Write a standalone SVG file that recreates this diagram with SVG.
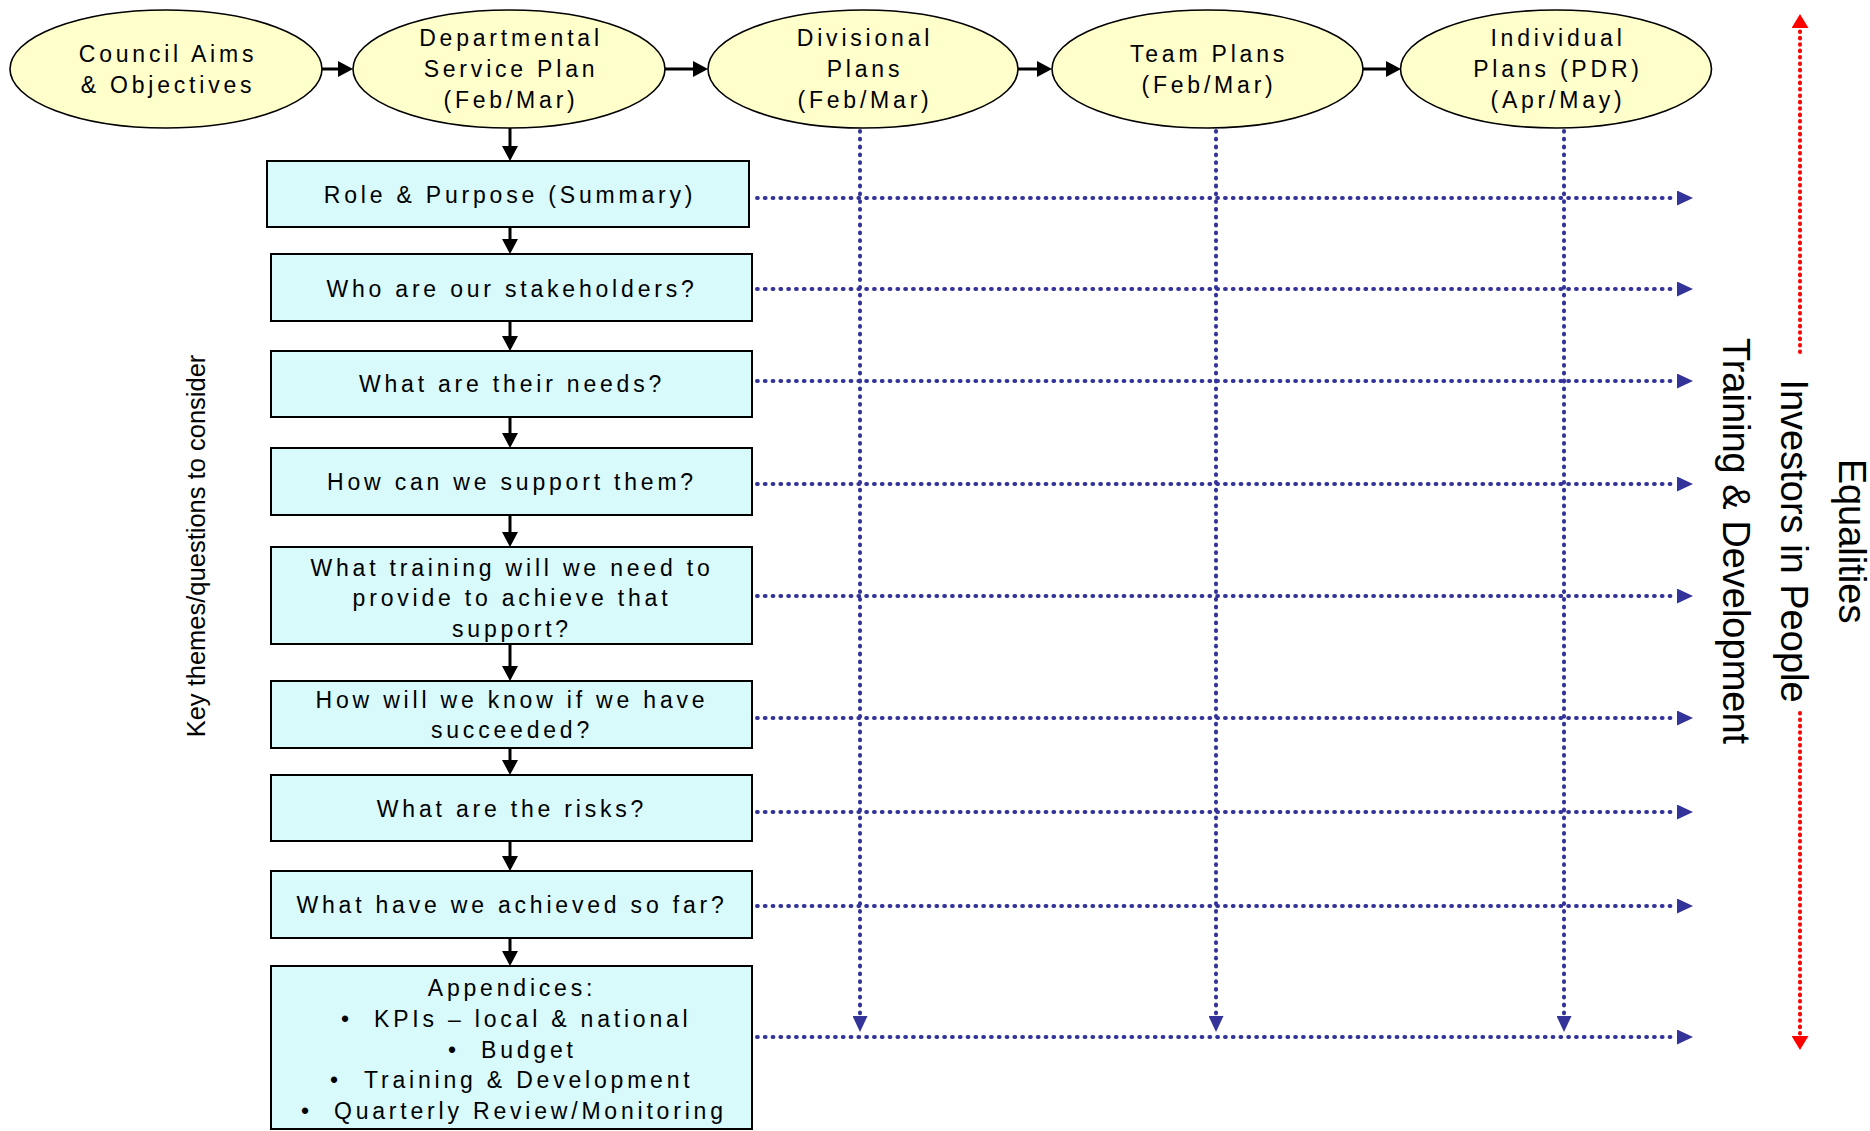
<svg xmlns="http://www.w3.org/2000/svg" width="1870" height="1131" viewBox="0 0 1870 1131">
<style>
.ell{fill:#FFFFCC;stroke:#000;stroke-width:1.6}
.box{fill:#D8FAFB;stroke:#000;stroke-width:2}
.t{font-family:"Liberation Sans",Arial,sans-serif;font-size:23px;letter-spacing:3.8px;fill:#000;text-anchor:middle}
.tb{font-family:"Liberation Sans",Arial,sans-serif;font-size:23px;letter-spacing:3.8px;fill:#000}
.side{font-family:"Liberation Sans",Arial,sans-serif;font-size:38px;fill:#000;text-anchor:middle}
.key{font-family:"Liberation Sans",Arial,sans-serif;font-size:25.5px;fill:#000;text-anchor:middle}
.blk{stroke:#000;stroke-width:3;fill:none;marker-end:url(#ab)}
.blu{stroke:#333399;stroke-width:4;stroke-linecap:round;stroke-dasharray:0.8 7;fill:none;marker-end:url(#au)}
.red{stroke:#FF0000;stroke-width:4;stroke-linecap:round;stroke-dasharray:0.6 5.8;fill:none;marker-end:url(#ar)}
</style>
<defs>
<marker id="ab" markerUnits="userSpaceOnUse" markerWidth="15" markerHeight="16" viewBox="0 0 15 16" refX="0" refY="8" orient="auto"><path d="M0,0 L15,8 L0,16 z" fill="#000"/></marker>
<marker id="au" markerUnits="userSpaceOnUse" markerWidth="16" markerHeight="15" viewBox="0 0 16 15" refX="0" refY="7.5" orient="auto"><path d="M0,0 L16,7.5 L0,15 z" fill="#333399"/></marker>
<marker id="ar" markerUnits="userSpaceOnUse" markerWidth="14" markerHeight="17" viewBox="0 0 14 17" refX="0" refY="8.5" orient="auto"><path d="M0,0 L14,8.5 L0,17 z" fill="#FF0000"/></marker>
</defs>

<g id="connectors">
  <line class="blk" x1="322" y1="69" x2="338" y2="69"/>
  <line class="blk" x1="665" y1="69" x2="693" y2="69"/>
  <line class="blk" x1="1018" y1="69" x2="1037" y2="69"/>
  <line class="blk" x1="1363" y1="69" x2="1386" y2="69"/>
  <line class="blk" x1="510" y1="128" x2="510" y2="146"/>
  <line class="blk" x1="510" y1="227" x2="510" y2="239"/>
  <line class="blk" x1="510" y1="321" x2="510" y2="336"/>
  <line class="blk" x1="510" y1="417" x2="510" y2="433"/>
  <line class="blk" x1="510" y1="515" x2="510" y2="532"/>
  <line class="blk" x1="510" y1="644" x2="510" y2="666"/>
  <line class="blk" x1="510" y1="748" x2="510" y2="760"/>
  <line class="blk" x1="510" y1="841" x2="510" y2="856"/>
  <line class="blk" x1="510" y1="938" x2="510" y2="951"/>
  <line class="blu" x1="860" y1="131" x2="860" y2="1016"/>
  <line class="blu" x1="1216" y1="131" x2="1216" y2="1016"/>
  <line class="blu" x1="1564" y1="131" x2="1564" y2="1016"/>
  <line class="blu" x1="757" y1="198" x2="1677" y2="198"/>
  <line class="blu" x1="757" y1="289" x2="1677" y2="289"/>
  <line class="blu" x1="757" y1="381" x2="1677" y2="381"/>
  <line class="blu" x1="757" y1="484" x2="1677" y2="484"/>
  <line class="blu" x1="757" y1="596" x2="1677" y2="596"/>
  <line class="blu" x1="757" y1="718" x2="1677" y2="718"/>
  <line class="blu" x1="757" y1="812" x2="1677" y2="812"/>
  <line class="blu" x1="757" y1="906" x2="1677" y2="906"/>
  <line class="blu" x1="757" y1="1037" x2="1677" y2="1037"/>
  <line class="red" x1="1800" y1="352" x2="1800" y2="28"/>
  <line class="red" x1="1800" y1="713" x2="1800" y2="1036"/>
</g>

<g id="n-council">
  <ellipse class="ell" cx="166" cy="69" rx="156" ry="59"/>
  <text class="t" x="168" y="62">Council Aims</text>
  <text class="t" x="168" y="93">&amp; Objectives</text>
</g>
<g id="n-departmental">
  <ellipse class="ell" cx="509" cy="69" rx="156" ry="59"/>
  <text class="t" x="511" y="46">Departmental</text>
  <text class="t" x="511" y="77">Service Plan</text>
  <text class="t" x="511" y="108">(Feb/Mar)</text>
</g>
<g id="n-divisional">
  <ellipse class="ell" cx="863" cy="69" rx="155" ry="59"/>
  <text class="t" x="865" y="46">Divisional</text>
  <text class="t" x="865" y="77">Plans</text>
  <text class="t" x="865" y="108">(Feb/Mar)</text>
</g>
<g id="n-team">
  <ellipse class="ell" cx="1207.5" cy="69" rx="155.5" ry="59"/>
  <text class="t" x="1209" y="62">Team Plans</text>
  <text class="t" x="1209" y="93">(Feb/Mar)</text>
</g>
<g id="n-individual">
  <ellipse class="ell" cx="1556" cy="69" rx="155.5" ry="59"/>
  <text class="t" x="1558" y="46">Individual</text>
  <text class="t" x="1558" y="77">Plans (PDR)</text>
  <text class="t" x="1558" y="108">(Apr/May)</text>
</g>

<g id="n-role">
  <rect class="box" x="267" y="161" width="482" height="66"/>
  <text class="t" x="510" y="203">Role &amp; Purpose (Summary)</text>
</g>
<g id="n-stakeholders">
  <rect class="box" x="271" y="254" width="481" height="67"/>
  <text class="t" x="512" y="297">Who are our stakeholders?</text>
</g>
<g id="n-needs">
  <rect class="box" x="271" y="351" width="481" height="66"/>
  <text class="t" x="512" y="392">What are their needs?</text>
</g>
<g id="n-support">
  <rect class="box" x="271" y="448" width="481" height="67"/>
  <text class="t" x="512" y="490">How can we support them?</text>
</g>
<g id="n-training">
  <rect class="box" x="271" y="547" width="481" height="97"/>
  <text class="t" x="512" y="576">What training will we need to</text>
  <text class="t" x="512" y="606">provide to achieve that</text>
  <text class="t" x="512" y="637">support?</text>
</g>
<g id="n-succeeded">
  <rect class="box" x="271" y="681" width="481" height="67"/>
  <text class="t" x="512" y="708">How will we know if we have</text>
  <text class="t" x="512" y="738">succeeded?</text>
</g>
<g id="n-risks">
  <rect class="box" x="271" y="775" width="481" height="66"/>
  <text class="t" x="512" y="817">What are the risks?</text>
</g>
<g id="n-achieved">
  <rect class="box" x="271" y="871" width="481" height="67"/>
  <text class="t" x="512" y="913">What have we achieved so far?</text>
</g>
<g id="n-appendices">
  <rect class="box" x="271" y="966" width="481" height="163"/>
  <text class="t" x="512" y="996">Appendices:</text>
  <text class="tb" x="341" y="1027">•</text>
  <text class="tb" x="374" y="1027">KPIs – local &amp; national</text>
  <text class="tb" x="448" y="1058">•</text>
  <text class="tb" x="481" y="1058">Budget</text>
  <text class="tb" x="330" y="1088">•</text>
  <text class="tb" x="364" y="1088">Training &amp; Development</text>
  <text class="tb" x="301" y="1119">•</text>
  <text class="tb" x="334" y="1119">Quarterly Review/Monitoring</text>
</g>

<g id="n-key-label">
  <text class="key" transform="translate(205,546) rotate(-90)" x="0" y="0">Key themes/questions to consider</text>
</g>
<g id="n-side-label">
  <text class="side" transform="translate(1839,541) rotate(90)" x="0" y="0">Equalities</text>
  <text class="side" transform="translate(1781,541) rotate(90)" x="0" y="0">Investors in People</text>
  <text class="side" transform="translate(1723,541) rotate(90)" x="0" y="0">Training &amp; Development</text>
</g>
</svg>
